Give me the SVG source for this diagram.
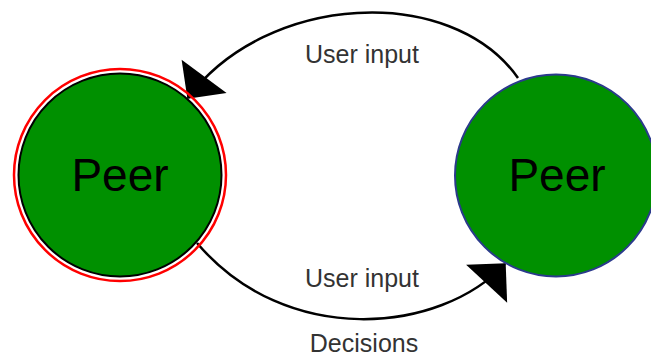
<svg xmlns="http://www.w3.org/2000/svg" width="651" height="356" viewBox="0 0 651 356">
  <defs>
    <marker id="arrow" markerUnits="userSpaceOnUse" markerWidth="30" markerHeight="58" viewBox="0 -29 29 58" refX="27" refY="0" orient="auto">
      <path d="M0,-28 L28,0 L0,28 Z" fill="#000"/>
    </marker>
  </defs>
  <style>
    .peer { fill: #009000; }
    .peer-label { font-family: "Liberation Sans", Arial, sans-serif; font-size: 46px; fill: #000; text-anchor: middle; }
    .edge { fill: none; stroke: #000; stroke-width: 2.5; }
    .edge-label { font-family: "Liberation Sans", Arial, sans-serif; font-size: 25px; fill: #333; text-anchor: middle; }
  </style>

  <rect width="651" height="356" fill="#fff"/>

  <g id="connectors">
    <path class="edge" d="M518,78 C451,-17 266,-7 188,98" marker-end="url(#arrow)"/>
    <path class="edge" d="M197,243 C286,348 440,334 505,264" marker-end="url(#arrow)"/>
    <text class="edge-label" x="362" y="63">User input</text>
    <text class="edge-label" x="362" y="287">User input</text>
    <text class="edge-label" x="364" y="352">Decisions</text>
  </g>

  <g id="peer-left">
    <circle cx="120" cy="175" r="106" fill="none" stroke="#f00" stroke-width="2.5"/>
    <circle class="peer" cx="120" cy="175" r="101.5" stroke="#000" stroke-width="2"/>
    <text class="peer-label" x="120" y="191">Peer</text>
  </g>

  <g id="peer-right">
    <circle class="peer" cx="556" cy="175.5" r="101" stroke="#2b3a8c" stroke-width="2"/>
    <text class="peer-label" x="557" y="191">Peer</text>
  </g>
</svg>
